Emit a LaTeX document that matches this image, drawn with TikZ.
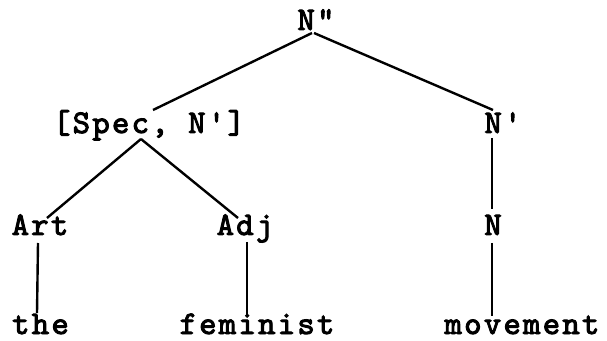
\documentclass[tikz,border=0pt]{standalone}
\usepackage{fontspec}
\newfontfamily\tw{lmmono10-regular.otf}[LetterSpace=7,FakeBold=3]
\begin{document}
\begin{tikzpicture}[x=1pt,y=1pt,
  lbl/.style={font=\tw\fontsize{33}{33}\selectfont, inner sep=0pt, anchor=base},
  edge/.style={line width=2.4pt}]
\useasboundingbox (0,0) rectangle (607,340);
\node[lbl] (nn) at (316,310) {N"};
\node[lbl] (spec) at (149,207) {[Spec, N']};
\node[lbl] (np) at (503,207) {N'};
\node[lbl] (art) at (40,105) {Art};
\node[lbl] (adj) at (245,105) {Adj};
\node[lbl] (n) at (493,105) {N};
\node[lbl] (the) at (40.5,6) {the};
\node[lbl] (fem) at (257,6) {feminist};
\node[lbl] (mov) at (522,6) {movement};
\draw[edge] ([shift={(-4pt,-3pt)}]nn.base) -- ([shift={(4pt,23pt)}]spec.base);
\draw[edge] ([shift={(-2pt,-3pt)}]nn.base) -- ([shift={(-10pt,23pt)}]np.base);
\draw[edge] ([shift={(-8pt,-6pt)}]spec.base) -- ([shift={(7pt,17pt)}]art.base);
\draw[edge] ([shift={(-8pt,-6pt)}]spec.base) -- ([shift={(-7pt,17pt)}]adj.base);
\draw[edge] ([shift={(-11pt,-5pt)}]np.base) -- ([shift={(-1pt,26pt)}]n.base);
\draw[edge] ([shift={(-2pt,-8pt)}]art.base) -- ([shift={(-3.5pt,21pt)}]the.base);
\draw[edge] ([shift={(2pt,-7pt)}]adj.base) -- ([shift={(-10pt,17pt)}]fem.base);
\draw[edge] ([shift={(-1pt,-8pt)}]n.base) -- ([shift={(-30pt,18pt)}]mov.base);
\end{tikzpicture}
\end{document}
